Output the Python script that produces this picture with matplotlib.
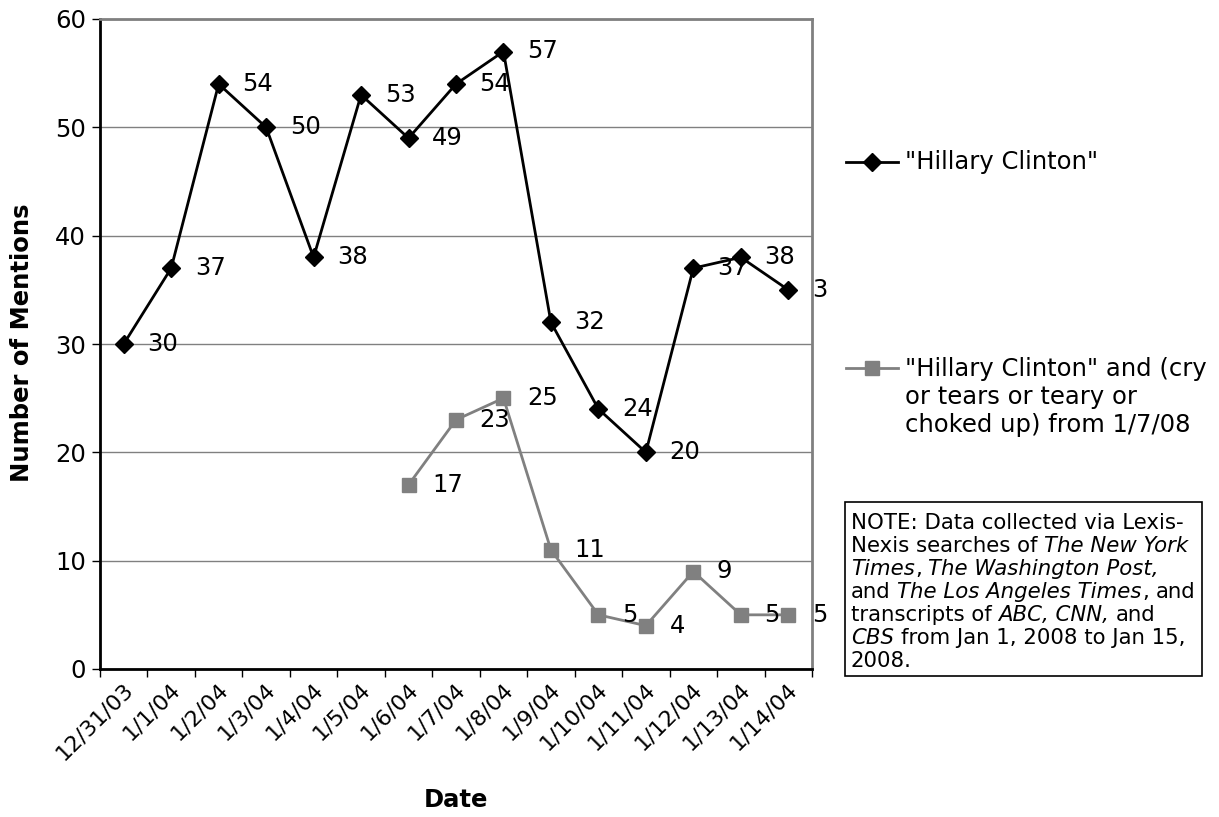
import numpy as np
import matplotlib
matplotlib.use("Agg")
import matplotlib.pyplot as plt
from matplotlib.lines import Line2D
from matplotlib.patches import Rectangle
from matplotlib.transforms import Bbox, TransformedBbox, ScaledTranslation

# ---------------- data ----------------
dates = ['12/31/03', '1/1/04', '1/2/04', '1/3/04', '1/4/04', '1/5/04', '1/6/04',
         '1/7/04', '1/8/04', '1/9/04', '1/10/04', '1/11/04', '1/12/04',
         '1/13/04', '1/14/04']
hillary = [30, 37, 54, 50, 38, 53, 49, 54, 57, 32, 24, 20, 37, 38, 35]
cry_dates = ['1/6/04', '1/7/04', '1/8/04', '1/9/04', '1/10/04', '1/11/04',
             '1/12/04', '1/13/04', '1/14/04']
cry = [17, 23, 25, 11, 5, 4, 9, 5, 5]
yticks = [0, 10, 20, 30, 40, 50, 60]
series1_name = '"Hillary Clinton"'
series2_name = '"Hillary Clinton" and (cry\nor tears or teary or\nchoked up) from 1/7/08'

W, H = 1219, 817
FS = 17.5
plt.rcParams['font.family'] = ['DejaVu Sans']

fig = plt.figure(figsize=(W / 100, H / 100), dpi=100)


def fx(px):
    return px / W


def fy(py):
    return 1 - py / H


ax = fig.add_axes([fx(100), fy(669), fx(812) - fx(100), fy(19) - fy(669)])
xpos = np.arange(len(dates))
cry_x = [dates.index(d) for d in cry_dates]

ax.set_xlim(-0.5, len(dates) - 0.5)
ax.set_ylim(0, 60)

ax.plot(xpos, hillary, color='black', lw=2, marker='D', ms=9,
        mfc='black', mec='black', zorder=3)
ax.plot(cry_x, cry, color='#808080', lw=2, marker='s', ms=10.5,
        mfc='#808080', mec='#808080', zorder=3)

clip = TransformedBbox(Bbox([[0, 0], [828 / W, 1]]), fig.transFigure)
off = ScaledTranslation(17 / 72, 0, fig.dpi_scale_trans)
for xs, ys in ((xpos, hillary), (cry_x, cry)):
    for xv, yv in zip(xs, ys):
        t = ax.text(xv, yv, str(yv), transform=ax.transData + off,
                    ha='left', va='center', fontsize=FS, zorder=4)
        t.set_clip_box(clip)
        t.set_clip_on(True)

# grid & spines
ax.set_yticks(yticks)
ax.yaxis.grid(True, color='#808080', lw=1)
ax.set_axisbelow(True)
for s in ('left', 'bottom'):
    ax.spines[s].set_color('black')
    ax.spines[s].set_linewidth(2)
for s in ('top', 'right'):
    ax.spines[s].set_color('#808080')
    ax.spines[s].set_linewidth(2)

ax.tick_params(axis='y', direction='out', length=6, width=1, labelsize=FS, pad=4)
ax.set_xticks(np.arange(len(dates) + 1) - 0.5)
ax.set_xticklabels([])
ax.tick_params(axis='x', which='major', direction='out', length=6, width=1)
ax.set_xticks(xpos, minor=True)
ax.set_xticklabels(dates, minor=True, rotation=45, ha='right',
                   rotation_mode='anchor', va='center', fontsize=16)
ax.tick_params(axis='x', which='minor', length=0, pad=12)
xoff = ScaledTranslation(6 / 100, 0, fig.dpi_scale_trans)
for lbl in ax.get_xticklabels(minor=True):
    lbl.set_transform(lbl.get_transform() + xoff)

fig.text(fx(22), fy(343), 'Number of Mentions', rotation=90, ha='center',
         va='center', fontsize=FS, fontweight='bold')
fig.text(fx(456), fy(800), 'Date', ha='center', va='center', fontsize=FS,
         fontweight='bold')

# legend (manual)
for yy, col, mk, ms in ((162, 'black', 'D', 9), (368, '#808080', 's', 10.5)):
    fig.add_artist(Line2D([fx(846), fx(898)], [fy(yy), fy(yy)], color=col, lw=2,
                          transform=fig.transFigure))
    fig.add_artist(Line2D([fx(872)], [fy(yy)], color=col, marker=mk, ms=ms,
                          mfc=col, mec=col, transform=fig.transFigure))
fig.text(fx(905), fy(162), series1_name, ha='left', va='center', fontsize=FS)
fig.text(fx(905), fy(357), series2_name, ha='left', va='top', fontsize=FS,
         linespacing=1.22)

# note box
fig.add_artist(Rectangle((fx(845), fy(676)), fx(1202) - fx(845), fy(502) - fy(676),
                         transform=fig.transFigure, fill=False, ec='black', lw=1.2))
note_lines = [
    [('NOTE: Data collected via Lexis-', 'normal')],
    [('Nexis searches of', 'normal'), (' ', 'normal'), ('The New York', 'italic')],
    [('Times', 'italic'), (',', 'normal'), (' ', 'normal'), ('The Washington Post,', 'italic')],
    [('and', 'normal'), (' ', 'normal'), ('The Los Angeles Times', 'italic'), (',', 'normal'), (' ', 'normal'), ('and', 'normal')],
    [('transcripts of', 'normal'), (' ', 'normal'), ('ABC, CNN,', 'italic'), (' ', 'normal'), ('and', 'normal')],
    [('CBS', 'italic'), (' ', 'normal'), ('from Jan 1, 2008 to Jan 15,', 'normal')],
    [('2008.', 'normal')],
]
NFS = 15.3
renderer = fig.canvas.get_renderer()


def width_px(s, style):
    t = fig.text(0, 0, s, fontsize=NFS, style=style)
    w = t.get_window_extent(renderer).width
    t.remove()
    return w


space_w = width_px('a a', 'normal') - width_px('aa', 'normal')
for i, line in enumerate(note_lines):
    xcur = 851
    ybase = 529 + 23 * i
    for s, st in line:
        if s == ' ':
            xcur += space_w
            continue
        t = fig.text(fx(xcur), fy(ybase), s, fontsize=NFS, style=st,
                     ha='left', va='baseline')
        xcur += t.get_window_extent(renderer).width

fig.savefig('out.png', dpi=100)
